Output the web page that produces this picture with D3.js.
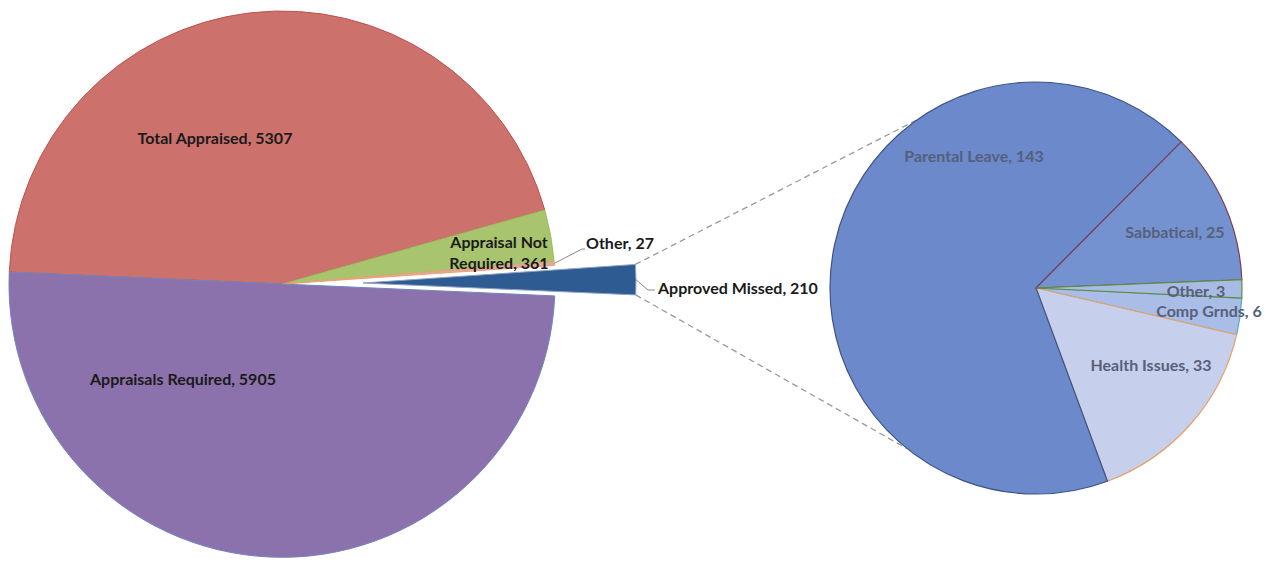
<!DOCTYPE html>
<html>
<head>
<meta charset="utf-8">
<script src="https://cdn.jsdelivr.net/npm/d3@7"></script>
<style>
  body { margin: 0; background: #fff; }
  svg text { font-family: Lato, "Open Sans", sans-serif; font-weight: bold; font-size: 16px; }
</style>
</head>
<body>
<svg width="1266" height="563"></svg>
<script>
// main pie
var leftCats = ["Total Appraised", "Appraisal Not Required", "Other", "Approved Missed", "Appraisals Required"];
var leftVals = [5307, 361, 27, 210, 5905];
// breakdown of "Approved Missed"
var rightCats = ["Parental Leave", "Sabbatical", "Other", "Comp Grnds", "Health Issues"];
var rightVals = [143, 25, 3, 6, 33];

var leftFill = ["#cd716d", "#a9c46f", "#d9a9a6", "#2f5b93", "#8c72ac"];
var leftStroke = ["#c0504d", "#9bbb59", "#f0a070", "#8fa2c4", "#6f86c0"];
var rightFill = ["#6b89cb", "#7592d0", "#a8bbe3", "#aabde6", "#c6d0ec"];
var rightStroke = ["#3f5486", "#7a3f55", "#5e8a3c", "#4bacc6", "#e8a06a"];
// paint order so that the shared borders come out like the original
var rightOrder = [3, 4, 0, 1, 2];

var deg = Math.PI / 180;
var L = { cx: 282, cy: 284, r: 273, start: -87.5, explode: 81, split: 3 };
var R = { cx: 1036, cy: 288, r: 206, start: -200.3, linkTop: -35.2, linkBot: 218.7 };

// label anchors, offsets from each pie centre
var leftLabelAt = [[-67, -146], [217, -42], [304, -41], [376, 4], [-99, 95]];
var rightLabelAt = [[-62, -132], [139, -56], [160, 3], [173, 23], [115, 77]];

var svg = d3.select("svg");

var leftPie = d3.pie().sort(null).value(function(d) { return d; })
	.startAngle(L.start * deg).endAngle(L.start * deg + 2 * Math.PI);
var rightPie = d3.pie().sort(null).value(function(d) { return d; })
	.startAngle(R.start * deg).endAngle(R.start * deg + 2 * Math.PI);

var leftArcs = leftPie(leftVals);
var rightArcs = rightPie(rightVals);

var arcL = d3.arc().innerRadius(0).outerRadius(L.r);
var arcR = d3.arc().innerRadius(0).outerRadius(R.r);

function polar(cx, cy, r, a) {
	return [cx + r * Math.sin(a), cy - r * Math.cos(a)];
}

var split = leftArcs[L.split];
var mid = (split.startAngle + split.endAngle) / 2;
var ex = L.explode * Math.sin(mid), ey = -L.explode * Math.cos(mid);

// connector lines from the pulled-out wedge to the second pie
var wTop = polar(L.cx + ex, L.cy + ey, L.r, split.startAngle);
var wBot = polar(L.cx + ex, L.cy + ey, L.r, split.endAngle);
var cTop = polar(R.cx, R.cy, R.r, R.linkTop * deg);
var cBot = polar(R.cx, R.cy, R.r, R.linkBot * deg);
svg.selectAll("line.link")
	.data([[wTop, cTop], [wBot, cBot]])
	.enter().append("line")
	.attr("class", "link")
	.attr("x1", function(d) { return d[0][0]; })
	.attr("y1", function(d) { return d[0][1]; })
	.attr("x2", function(d) { return d[1][0]; })
	.attr("y2", function(d) { return d[1][1]; })
	.attr("stroke", "#9a9a9a")
	.attr("stroke-width", 1.3)
	.attr("stroke-dasharray", "6,4");

// left pie
var gL = svg.append("g").attr("transform", "translate(" + L.cx + "," + L.cy + ")");
gL.selectAll("path")
	.data(leftArcs)
	.enter().append("path")
	.attr("d", arcL)
	.attr("transform", function(d, i) { return i == L.split ? "translate(" + ex + "," + ey + ")" : null; })
	.attr("fill", function(d, i) { return leftFill[i]; })
	.attr("stroke", function(d, i) { return leftStroke[i]; })
	.attr("stroke-width", 1);

// right pie
var gR = svg.append("g").attr("transform", "translate(" + R.cx + "," + R.cy + ")");
gR.selectAll("path")
	.data(rightOrder)
	.enter().append("path")
	.attr("d", function(i) { return arcR(rightArcs[i]); })
	.attr("fill", function(i) { return rightFill[i]; })
	.attr("stroke", function(i) { return rightStroke[i]; })
	.attr("stroke-width", 1.2);

// leader lines for the two small outside labels
var oth = leftArcs[2];
var othEdge = polar(L.cx, L.cy, L.r, (oth.startAngle + oth.endAngle) / 2);
var othLab = [L.cx + leftLabelAt[2][0], L.cy + leftLabelAt[2][1]];
var wMid = polar(L.cx + ex, L.cy + ey, L.r, mid);
var amLab = [L.cx + leftLabelAt[3][0], L.cy + leftLabelAt[3][1]];
svg.selectAll("path.leader")
	.data([
		[othEdge, [othLab[0] - 4, othLab[1] + 6], [othLab[0] - 1, othLab[1] + 6]],
		[wMid, [amLab[0] - 10, amLab[1] + 2], [amLab[0] - 3, amLab[1] + 2]]
	])
	.enter().append("path")
	.attr("class", "leader")
	.attr("d", d3.line())
	.attr("fill", "none")
	.attr("stroke", "#8a8a8a")
	.attr("stroke-width", 1);

// left labels
leftArcs.forEach(function(d, i) {
	var pos = leftLabelAt[i];
	var outside = i == 2 || i == 3;
	var lines = i == 1 ? ["Appraisal Not", "Required, " + leftVals[i]] : [leftCats[i] + ", " + leftVals[i]];
	var t = svg.append("text")
		.attr("x", L.cx + pos[0])
		.attr("y", L.cy + pos[1])
		.attr("text-anchor", outside ? "start" : "middle")
		.attr("fill", "#1a1a1a");
	lines.forEach(function(s, k) {
		t.append("tspan")
			.attr("x", L.cx + pos[0])
			.attr("y", L.cy + pos[1] + k * 21)
			.attr("dy", "0.35em")
			.text(s);
	});
});

// right labels
svg.selectAll("text.rlab")
	.data(rightArcs)
	.enter().append("text")
	.attr("class", "rlab")
	.attr("x", function(d, i) { return R.cx + rightLabelAt[i][0]; })
	.attr("y", function(d, i) { return R.cy + rightLabelAt[i][1]; })
	.attr("dy", "0.35em")
	.attr("text-anchor", "middle")
	.attr("fill", "#56607a")
	.text(function(d, i) { return rightCats[i] + ", " + rightVals[i]; });
</script>
</body>
</html>
